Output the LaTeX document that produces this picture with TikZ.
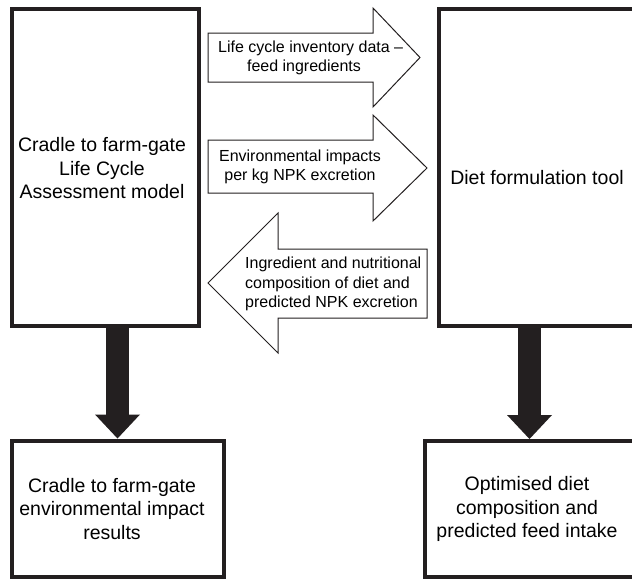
\documentclass[tikz,border=0pt]{standalone}
\usepackage{fontspec}
\setmainfont{Liberation Sans}
\usetikzlibrary{arrows.meta}
\definecolor{inkline}{RGB}{35,31,32}

\begin{document}
\begin{tikzpicture}[x=1pt,y=-1pt,
    box/.style={draw=inkline,line width=4pt,inner sep=0pt},
    boxtext/.style={align=center,inner sep=0pt,font=\fontsize{19.5}{23.5}\selectfont},
    flowtext/.style={inner sep=0pt,font=\fontsize{16}{19.5}\selectfont},
    flowarrow/.style={draw=inkline,line width=1pt,line join=miter,fill=white},
    downarrow/.style={draw=inkline,line width=23pt,-{Triangle[width=45pt,length=24pt,line width=0pt]}}
  ]
  \clip (0,0) rectangle (632,579);
  \node[box,minimum width=187.5pt,minimum height=317pt] (lca) at (105.25,167.5) {};
  \node[box,minimum width=195pt,minimum height=317pt] (diet) at (536.5,167.5) {};
  \node[box,minimum width=212pt,minimum height=136pt] (lcares) at (117.5,508.5) {};
  \node[box,minimum width=209pt,minimum height=136pt] (dietres) at (529.5,509) {};
  \node[boxtext] (lcatext) at (102,168.5) {Cradle to farm-gate\\Life Cycle\\Assessment model};
  \node[boxtext] (diettext) at (537,178) {Diet formulation tool};
  \node[boxtext] (lcarestext) at (112,509) {Cradle to farm-gate\\environmental impact\\results};
  \node[boxtext] (dietrestext) at (527,509) {Optimised diet\\composition and\\predicted feed intake};
  \draw[flowarrow] (208,33) -- (373,33) -- (373,8) -- (420,57.5) -- (373,107) -- (373,82) -- (208,82) -- cycle;
  \node[flowtext,align=center] (lcidata) at (304,58) {Life cycle inventory data\rlap{ –}\\feed ingredients};
  \draw[flowarrow] (208,140) -- (373,140) -- (373,115) -- (427,168) -- (373,221) -- (373,193) -- (208,193) -- cycle;
  \node[flowtext,align=center] (npkimpacts) at (300,167) {Environmental impacts\\per kg NPK excretion};
  \draw[flowarrow] (427,249) -- (278,249) -- (278,213) -- (208,283) -- (278,353) -- (278,318) -- (427,318) -- cycle;
  \node[flowtext,align=left,anchor=west] (dietcomp) at (245,284) {Ingredient and nutritional\\composition of diet and\\predicted NPK excretion};
  \draw[downarrow] (lca.south -| lcares.north) -- (lcares.north);
  \draw[downarrow] (diet.south -| dietres.north) -- (dietres.north);
\end{tikzpicture}
\end{document}
